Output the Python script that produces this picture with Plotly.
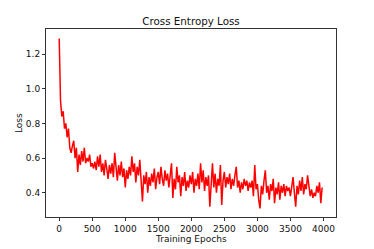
import plotly.graph_objects as go

epochs = list(range(0, 4000, 20))

loss_0_480 = [1.29, 0.93, 0.84, 0.87, 0.77, 0.80, 0.72, 0.77, 0.66, 0.63, 0.67, 0.70, 0.60,
              0.66, 0.52, 0.62, 0.56, 0.64, 0.58, 0.66, 0.57, 0.60, 0.58, 0.62, 0.55]
loss_500_980 = [0.57, 0.54, 0.58, 0.53, 0.61, 0.55, 0.62, 0.52, 0.57, 0.50, 0.59, 0.54, 0.48,
                0.56, 0.51, 0.57, 0.49, 0.63, 0.52, 0.47, 0.56, 0.50, 0.58, 0.49, 0.54]
loss_1000_1480 = [0.43, 0.53, 0.48, 0.55, 0.50, 0.61, 0.52, 0.57, 0.46, 0.55, 0.50, 0.59, 0.48,
                  0.35, 0.50, 0.45, 0.52, 0.40, 0.49, 0.44, 0.51, 0.46, 0.54, 0.42, 0.49]
loss_1500_1980 = [0.52, 0.45, 0.55, 0.48, 0.44, 0.53, 0.47, 0.51, 0.43, 0.50, 0.57, 0.37, 0.48,
                  0.42, 0.55, 0.46, 0.50, 0.38, 0.49, 0.44, 0.52, 0.41, 0.47, 0.43, 0.50]
loss_2000_2480 = [0.45, 0.52, 0.40, 0.48, 0.44, 0.51, 0.42, 0.57, 0.46, 0.53, 0.41, 0.49, 0.44,
                  0.50, 0.32, 0.47, 0.57, 0.43, 0.51, 0.40, 0.48, 0.44, 0.56, 0.33, 0.47]
loss_2500_2980 = [0.52, 0.43, 0.49, 0.45, 0.51, 0.42, 0.48, 0.44, 0.50, 0.55, 0.43, 0.47, 0.40,
                  0.46, 0.42, 0.48, 0.44, 0.47, 0.41, 0.46, 0.43, 0.47, 0.38, 0.56, 0.42]
loss_3000_3480 = [0.45, 0.36, 0.31, 0.44, 0.39, 0.47, 0.53, 0.40, 0.44, 0.36, 0.45, 0.41, 0.48,
                  0.34, 0.43, 0.39, 0.46, 0.36, 0.44, 0.40, 0.45, 0.38, 0.44, 0.41, 0.43]
loss_3500_3980 = [0.38, 0.45, 0.49, 0.40, 0.32, 0.44, 0.39, 0.47, 0.41, 0.49, 0.39, 0.45, 0.42,
                  0.50, 0.44, 0.38, 0.42, 0.37, 0.40, 0.38, 0.44, 0.40, 0.46, 0.34, 0.43]

loss = (loss_0_480 + loss_500_980 + loss_1000_1480 + loss_1500_1980 +
        loss_2000_2480 + loss_2500_2980 + loss_3000_3480 + loss_3500_3980)

x_ticks = [0, 500, 1000, 1500, 2000, 2500, 3000, 3500, 4000]
y_ticks = [0.4, 0.6, 0.8, 1.0, 1.2]

fig = go.Figure()
fig.add_trace(go.Scatter(x=epochs, y=loss, mode="lines",
                         line=dict(color="#ff0000", width=1.5), showlegend=False))

font = "DejaVu Sans, sans-serif"
W, H = 366, 241  # page body has an 8px default margin
fig.update_layout(
    width=W, height=H,
    margin=dict(l=38, r=38, t=21, b=32),
    paper_bgcolor="white", plot_bgcolor="white",
    font=dict(family=font, size=9, color="#111111"),
    title=dict(text="Cross Entropy Loss", x=0.5, xref="container", xanchor="center",
               y=1 - 13/H, yref="container", yanchor="middle",
               font=dict(size=10.3, color="#111111")),
    annotations=[
        dict(text="Training Epochs", xref="paper", yref="paper", x=0.5, y=-22/188,
             xanchor="center", yanchor="middle", showarrow=False,
             font=dict(size=9, color="#111111")),
        dict(text="Loss", xref="paper", yref="paper", x=-27/290, y=0.5,
             xanchor="center", yanchor="middle", showarrow=False, textangle=-90,
             font=dict(size=9, color="#111111")),
    ],
)
axis_common = dict(showline=True, linecolor="#333333", linewidth=1, mirror=True,
                   ticks="outside", ticklen=3, tickwidth=1, tickcolor="#333333",
                   showgrid=False, zeroline=False, tickfont=dict(size=9))
fig.update_xaxes(range=[-200, 4190], tickvals=x_ticks,
                 ticktext=[str(v) for v in x_ticks], **axis_common)
fig.update_yaxes(range=[0.26, 1.345], tickvals=y_ticks,
                 ticktext=[f"{v:.1f}" for v in y_ticks], **axis_common)

fig.write_html("out.html")
